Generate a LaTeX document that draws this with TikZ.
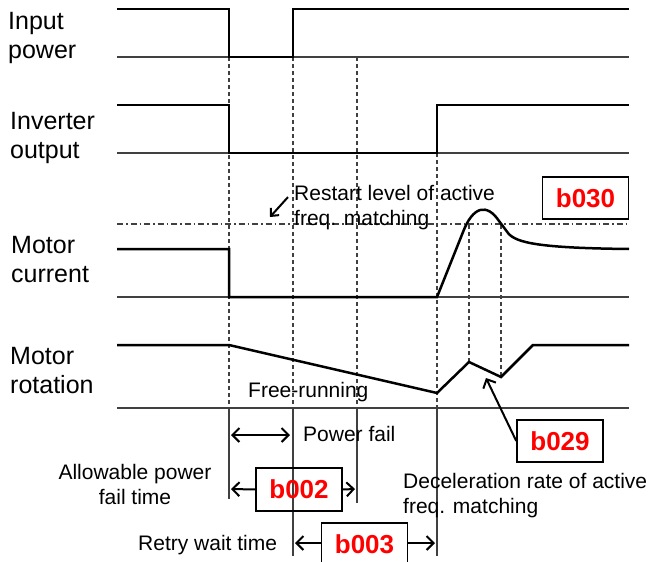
\documentclass[tikz,border=0pt]{standalone}
\usepackage{fontspec}
\setmainfont{Liberation Sans}
\usetikzlibrary{arrows.meta}
\definecolor{gline}{RGB}{64,64,64}
\begin{document}
\begin{tikzpicture}[x=1pt,y=-1pt,
  sigline/.style={line width=2.5pt,line join=miter},
  baseln/.style={line width=1.2pt,gline},
  guideln/.style={line width=1.2pt,gline,dash pattern=on 4pt off 3pt},
  tickln/.style={line width=1.2pt,gline},
  lbltext/.style={inner sep=0pt,anchor=base west,align=left,font=\fontsize{25}{29}\selectfont},
  notetext/.style={inner sep=0pt,anchor=base west,align=left,font=\fontsize{21}{24.5}\selectfont},
  codebox/.style={draw,line width=1.5pt,inner sep=0pt,minimum width=86pt,minimum height=42pt,text=red,font=\fontsize{26}{30}\selectfont\bfseries},
  arrln/.style={line width=2pt,-{Straight Barb[length=7pt,width=14pt]}},
  darrln/.style={line width=2pt,{Straight Barb[length=7pt,width=14pt]}-{Straight Barb[length=7pt,width=14pt]}}
]
\useasboundingbox (0,0) rectangle (651,562);
\clip (0,0) rectangle (651,562);
% labels (anchor at the baseline of the last line)
\node[lbltext] (lin) at (8,58) {Input\\power};
\node[lbltext] (linv) at (10,158) {Inverter\\output};
\node[lbltext] (lcur) at (11,282) {Motor\\current};
\node[lbltext] (lrot) at (10,393) {Motor\\rotation};
% baselines
\draw[baseln] (117,57) -- (629,57);
\draw[baseln] (117,153) -- (629,153);
\draw[baseln] (117,297) -- (629,297);
\draw[baseln] (117,408) -- (629,408);
% restart level
\draw[line width=1.2pt,gline,dash pattern=on 6pt off 3pt on 1.5pt off 3pt] (117,224) -- (629,224);
% guides
\draw[guideln] (229,57) -- (229,408);
\draw[guideln] (293,57) -- (293,408);
\draw[guideln] (357,57) -- (357,408);
\draw[guideln] (437,153) -- (437,408);
\draw[guideln] (469,225) -- (469,362);
\draw[guideln] (501,225) -- (501,377);
% marks under the time axis
\draw[tickln] (229,408) -- (229,499);
\draw[tickln] (293,408) -- (293,556);
\draw[tickln] (357,408) -- (357,503);
\draw[tickln] (437,408) -- (437,556);
% signals
\draw[sigline] (117,9) -- (229,9) -- (229,57) -- (293,57) -- (293,9) -- (629,9);
\draw[sigline] (117,105) -- (229,105) -- (229,153) -- (437,153) -- (437,105) -- (629,105);
\draw[sigline] (117,249) -- (229,249) -- (229,297) -- (437,297) -- (463,232)
  .. controls (473,206) and (487,203) .. (499,221) -- (508,233)
  .. controls (516,243) and (540,248) .. (629,249);
\draw[sigline] (117,345) -- (229,345) -- (437,393) -- (469,362) -- (501,377) -- (533,345) -- (629,345);
% texts
\node[notetext] (restart) at (294,225) {Restart level of active\\freq. matching};
\coordinate (rtip) at (270,217);
\draw[line width=2pt,-{Straight Barb[length=6pt,width=11pt]}] ([xshift=-6pt,yshift=-12pt]restart.north west) -- (rtip);
\node[notetext] (free) at (248,397) {Free-running};
\node[notetext] (pfail) at (303,441) {Power fail};
\coordinate (pfl) at (231,435);
\coordinate (pfr) at (290,435);
\draw[darrln] (pfl) -- (pfr);
\node[notetext,anchor=base,align=center] (allow) at (135,504) {Allowable power\\fail time};
\node[notetext] (retry) at (138,550) {Retry wait time};
\node[notetext] (decel) at (403,513) {Deceleration rate of active\\freq. matching};
% code boxes
\node[codebox] (b030) at (585.5,198) {b030};
\node[codebox] (b029) at (560,441) {b029};
\node[codebox,minimum height=43pt] (b002) at (299,489.5) {b002};
\node[codebox] (b003) at (364.5,544) {b003};
\coordinate (b029tip) at (486,378);
\draw[arrln] (b029.west) -- (b029tip);
\coordinate (b002l) at (231,489);
\coordinate (b002r) at (355,489);
\draw[arrln] (b002.west) -- (b002l);
\draw[arrln] (b002.east) -- (b002r);
\coordinate (b003l) at (295,543);
\coordinate (b003r) at (435,543);
\draw[arrln] (b003.west |- b003l) -- (b003l);
\draw[arrln] (b003.east |- b003r) -- (b003r);
\end{tikzpicture}
\end{document}
